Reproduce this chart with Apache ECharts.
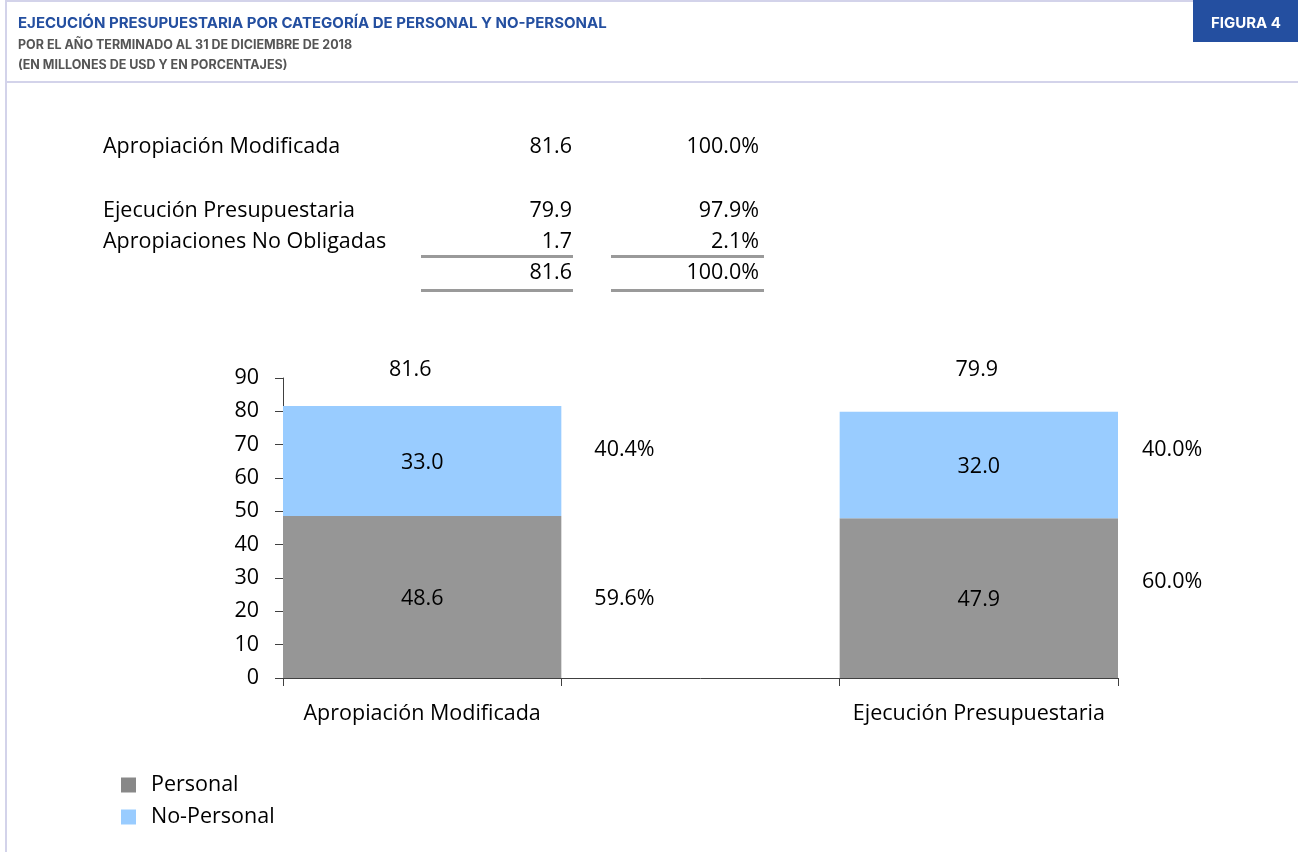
<!DOCTYPE html>
<html>
<head>
<meta charset="utf-8">
<script src="https://cdn.jsdelivr.net/npm/echarts@6/dist/echarts.min.js"></script>
<style>
html,body{margin:0;padding:0;background:#fff;}
#chart{width:1298px;height:852px;}
</style>
</head>
<body>
<div id="chart"></div>
<script>
// ---- data ----
const categories = ['Apropiación Modificada', '', 'Ejecución Presupuestaria'];
const personal = [48.6, null, 47.9];
const noPersonal = [33.0, null, 32.0];
const totals = [81.6, null, 79.9];
const personalPct = ['59.6%', '', '60.0%'];
const noPersonalPct = ['40.4%', '', '40.0%'];
const yMin = 0, yMax = 90, yInterval = 10;

const tableLabels = ['Apropiación Modificada', 'Ejecución Presupuestaria', 'Apropiaciones No Obligadas', ''];
const tableAmounts = ['81.6', '79.9', '1.7', '81.6'];
const tablePercents = ['100.0%', '97.9%', '2.1%', '100.0%'];

const titleText = 'EJECUCIÓN PRESUPUESTARIA POR CATEGORÍA DE PERSONAL Y NO-PERSONAL';
const subtitle1 = 'POR EL AÑO TERMINADO AL 31 DE DICIEMBRE DE 2018';
const subtitle2 = '(EN MILLONES DE USD Y EN PORCENTAJES)';
const figureLabel = 'FIGURA 4';

// ---- layout (not data) ----
const FONT = '"Open Sans"';
const FS = 21.5;
const tableRowY = [147, 211, 242, 273];
const pctPersonalOffset = [[28, 2], null, [19, -16]];
const pctNoPersonalOffset = [[28, -11], null, [19, -15]];
const totalOffset = [[-12, -20], null, [-2, -26]];

const BLUE = '#244fa0';
const BORDER = '#d3d3ea';
const GRAY = '#969696';
const LIGHT = '#99ccff';

const chart = echarts.init(document.getElementById('chart'), null, {renderer: 'canvas'});

function mk(values, fn) {
  return values.map((v, i) => (v == null ? null : Object.assign({value: v}, fn(i))));
}

const graphics = [];
// frame lines
graphics.push({type: 'rect', shape: {x: 5, y: 0, width: 2, height: 852}, style: {fill: BORDER}, silent: true});
graphics.push({type: 'rect', shape: {x: 5, y: 0, width: 1293, height: 2}, style: {fill: BORDER}, silent: true});
graphics.push({type: 'rect', shape: {x: 5, y: 81, width: 1293, height: 2}, style: {fill: BORDER}, silent: true});
// header
graphics.push({type: 'text', x: 18, y: 23, style: {text: titleText, fill: BLUE, font: '700 15px Inter', textVerticalAlign: 'middle'}});
graphics.push({type: 'text', x: 18, y: 45, style: {text: subtitle1, fill: '#555', font: '700 12.5px Inter', textVerticalAlign: 'middle'}});
graphics.push({type: 'text', x: 18, y: 65, style: {text: subtitle2, fill: '#555', font: '700 12.5px Inter', textVerticalAlign: 'middle'}});
graphics.push({type: 'rect', shape: {x: 1193, y: 0, width: 105, height: 42}, style: {fill: BLUE}});
graphics.push({type: 'text', x: 1246, y: 23, style: {text: figureLabel, fill: '#fff', font: '700 15px Inter', textAlign: 'center', textVerticalAlign: 'middle'}});
// table
const tfont = FS + 'px ' + FONT;
tableLabels.forEach((t, i) => {
  const y = tableRowY[i];
  if (t) graphics.push({type: 'text', x: 103, y: y, style: {text: t, fill: '#000', font: tfont, textVerticalAlign: 'middle'}});
  graphics.push({type: 'text', x: 572, y: y, style: {text: tableAmounts[i], fill: '#000', font: tfont, textAlign: 'right', textVerticalAlign: 'middle'}});
  graphics.push({type: 'text', x: 759, y: y, style: {text: tablePercents[i], fill: '#000', font: tfont, textAlign: 'right', textVerticalAlign: 'middle'}});
});
[256, 290].forEach(y => {
  graphics.push({type: 'rect', shape: {x: 421, y: y - 1, width: 152, height: 3}, style: {fill: '#9a9a9a'}});
  graphics.push({type: 'rect', shape: {x: 611, y: y - 1, width: 153, height: 3}, style: {fill: '#9a9a9a'}});
});

const txt = {fontFamily: FONT, fontSize: FS, color: '#000'};

const option = {
  animation: false,
  backgroundColor: '#fff',
  graphic: graphics,
  legend: {
    orient: 'vertical',
    left: 116,
    top: 769,
    itemWidth: 15,
    itemHeight: 15,
    itemGap: 10,
    icon: 'rect',
    textStyle: Object.assign({}, txt, {padding: [0, 0, 0, 10], lineHeight: 22}),
    data: [
      {name: 'Personal', itemStyle: {color: '#888'}},
      {name: 'No-Personal'}
    ]
  },
  grid: {left: 283, right: 180, top: 378, bottom: 174, containLabel: false},
  xAxis: {
    type: 'category',
    data: categories,
    boundaryGap: true,
    axisLine: {lineStyle: {color: '#404040', width: 1}},
    axisTick: {show: true, interval: 0, length: 8, lineStyle: {color: '#404040'}},
    axisLabel: Object.assign({}, txt, {margin: 25, interval: 0})
  },
  yAxis: {
    type: 'value',
    min: yMin, max: yMax, interval: yInterval,
    axisLine: {show: true, lineStyle: {color: '#404040', width: 1}},
    axisTick: {show: true, length: 8, lineStyle: {color: '#404040'}},
    splitLine: {show: false},
    axisLabel: Object.assign({}, txt, {margin: 24, padding: [2, 0, 0, 0]})
  },
  series: [
    {
      name: 'Personal', type: 'bar', stack: 'a', barWidth: '100%', barGap: '-100%', silent: true,
      itemStyle: {color: GRAY},
      label: Object.assign({show: true, position: 'inside', formatter: p => p.value.toFixed(1), offset: [0, 2]}, txt),
      data: personal
    },
    {
      name: 'No-Personal', type: 'bar', stack: 'a', barWidth: '100%', barGap: '-100%', silent: true,
      itemStyle: {color: LIGHT},
      label: Object.assign({show: true, position: 'inside', formatter: p => p.value.toFixed(1), offset: [0, 2]}, txt),
      data: noPersonal
    },
    {
      name: 'pctP', type: 'bar', stack: 'b', barWidth: '100%', barGap: '-100%', silent: true,
      itemStyle: {color: 'rgba(0,0,0,0)'},
      label: Object.assign({show: true, position: 'right', distance: 5, formatter: p => personalPct[p.dataIndex]}, txt),
      data: mk(personal, i => ({label: {offset: pctPersonalOffset[i]}}))
    },
    {
      name: 'pctN', type: 'bar', stack: 'b', barWidth: '100%', barGap: '-100%', silent: true,
      itemStyle: {color: 'rgba(0,0,0,0)'},
      label: Object.assign({show: true, position: 'right', distance: 5, formatter: p => noPersonalPct[p.dataIndex]}, txt),
      data: mk(noPersonal, i => ({label: {offset: pctNoPersonalOffset[i]}}))
    },
    {
      name: 'total', type: 'bar', barWidth: '100%', barGap: '-100%', silent: true,
      itemStyle: {color: 'rgba(0,0,0,0)'},
      label: Object.assign({show: true, position: 'top', distance: 5, formatter: p => p.value.toFixed(1)}, txt),
      data: mk(totals, i => ({label: {offset: totalOffset[i]}}))
    }
  ]
};
chart.setOption(option);
</script>
</body>
</html>
